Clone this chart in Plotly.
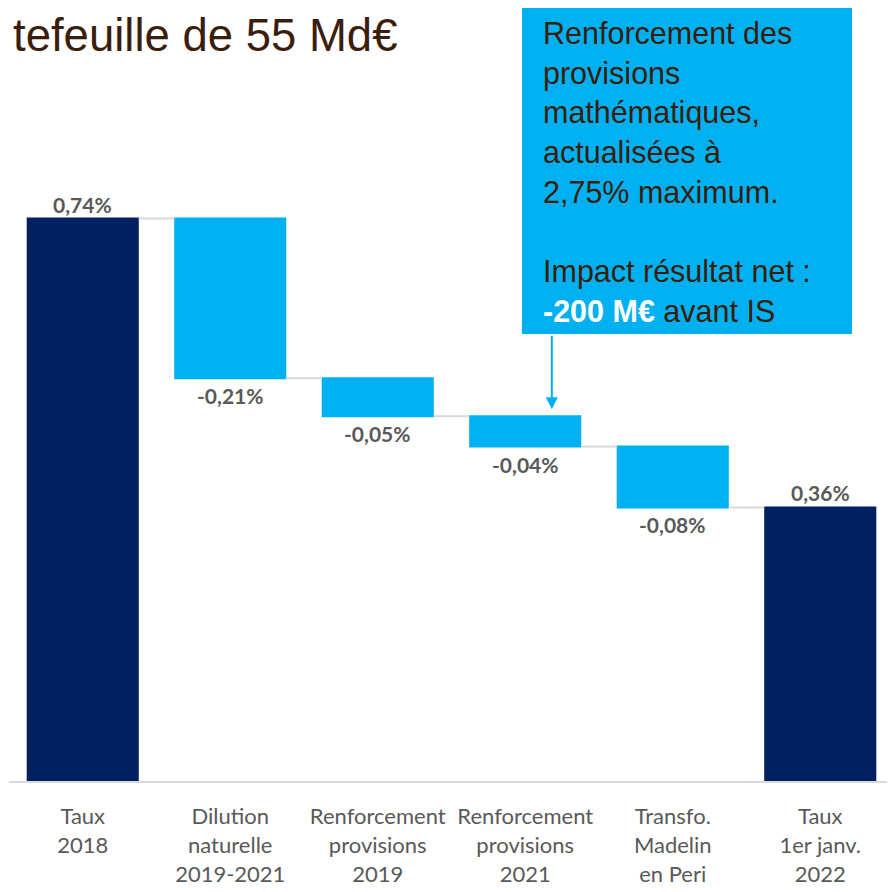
import plotly.graph_objects as go

categories = ["Taux<br>2018", "Dilution<br>naturelle<br>2019-2021", "Renforcement<br>provisions<br>2019",
              "Renforcement<br>provisions<br>2021", "Transfo.<br>Madelin<br>en Peri", "Taux<br>1er janv.<br>2022"]
values = [0.74, -0.21, -0.05, -0.04, -0.08, 0.36]
measures = ["absolute", "relative", "relative", "relative", "relative", "total"]
value_labels = ["0,74%", "-0,21%", "-0,05%", "-0,04%", "-0,08%", "0,36%"]
title_text = "tefeuille de 55 Md€"
box_text = ("Renforcement des<br>provisions<br>mathématiques,<br>actualisées à<br>2,75% maximum.<br><br>"
            "Impact résultat net :<br><b><span style='color:white'>-200 M€</span></b> avant IS")

NAVY = "#002060"
LIGHT = "#00B0F0"
GRAY = "#595959"
BROWN = "#3B1D0C"

fig = go.Figure(go.Waterfall(
    x=categories, y=values, measure=measures,
    decreasing=dict(marker=dict(color=LIGHT)),
    increasing=dict(marker=dict(color=LIGHT)),
    totals=dict(marker=dict(color=NAVY)),
    connector=dict(line=dict(color="#D9D9D9", width=2)),
    hoverinfo="skip",
))

label_font = dict(family="Lato", size=21, color=GRAY, weight="bold")

# value labels computed from data
level = 0.0
annotations = []
for i, (m, v, lab) in enumerate(zip(measures, values, value_labels)):
    if m == "absolute":
        level = v
        annotations.append(dict(x=i, y=level, text=lab, showarrow=False, yanchor="bottom", yshift=0,
                                font=label_font))
    elif m == "total":
        annotations.append(dict(x=i, y=level, text=lab, showarrow=False, yanchor="bottom", yshift=0,
                                font=label_font))
    else:
        start = level
        level = level + v
        annotations.append(dict(x=i, y=min(start, level), text=lab, showarrow=False, yanchor="top", yshift=-3,
                                font=label_font))

# level at top of the 4th bar (arrow target)
target_level = values[0] + sum(values[1:3])

annotations.append(dict(x=3.18, y=target_level, ax=0, ay=-82, text="", showarrow=True,
                        arrowhead=2, arrowsize=1.2, arrowwidth=2, arrowcolor=LIGHT, standoff=7))

annotations.append(dict(xref="paper", yref="paper", x=(541 - 9) / 885, y=1.009, xanchor="left", yanchor="top",
                        align="left", text=box_text, showarrow=False,
                        font=dict(family="Liberation Sans, Arial", size=30.5, color=BROWN)))

annotations.append(dict(xref="paper", yref="paper", x=(11 - 9) / 885, y=1.017, xanchor="left", yanchor="top",
                        text=title_text, showarrow=False,
                        font=dict(family="Liberation Sans, Arial", size=45.5, color=BROWN)))

fig.update_layout(
    width=895, height=892,
    margin=dict(l=1, r=9, t=13, b=119),
    paper_bgcolor="white", plot_bgcolor="white",
    waterfallgap=0.24,
    showlegend=False,
    shapes=[dict(type="rect", xref="paper", yref="paper",
                 x0=(522 - 9) / 885, x1=(852 - 9) / 885,
                 y0=(780 - 333) / 760, y1=(780 - 4) / 760,
                 fillcolor=LIGHT, line=dict(width=0), layer="above")],
    annotations=annotations,
    xaxis=dict(showline=True, linecolor="#D9D9D9", linewidth=2, ticks="", showgrid=False,
               tickfont=dict(family="Lato", size=22, color=GRAY), ticklabelstandoff=15),
    yaxis=dict(range=[0, 1.0], visible=False, showgrid=False, zeroline=False),
)

fig.write_html("out.html")
